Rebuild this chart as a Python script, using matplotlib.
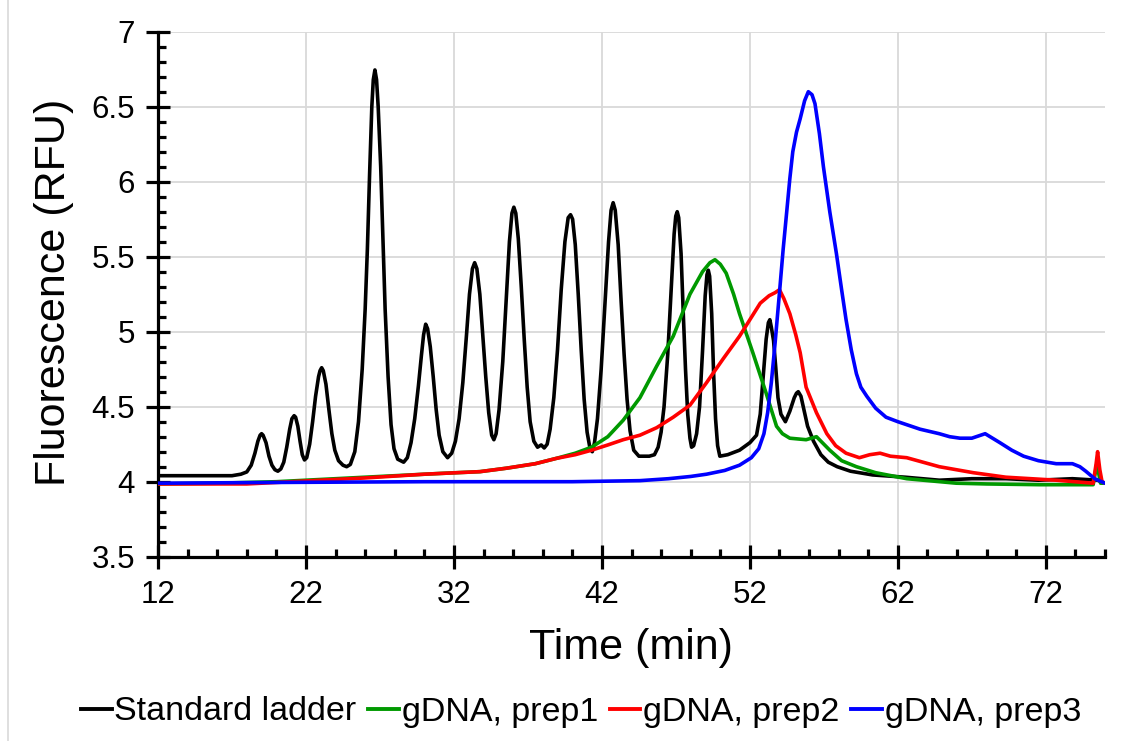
import matplotlib
matplotlib.use("Agg")
import matplotlib.pyplot as plt
from matplotlib.lines import Line2D

plt.rcParams['font.family'] = ['Liberation Sans', 'DejaVu Sans']

# ---------------- data: (time, RFU) ----------------
ladder_pts = [
    (12, 4.04), (17.0, 4.04), (17.6, 4.05), (18.0, 4.065), (18.3, 4.11), (18.55, 4.19),
    (18.75, 4.27), (18.9, 4.31), (19.0, 4.32), (19.1, 4.31), (19.3, 4.26), (19.5, 4.17),
    (19.7, 4.11), (19.9, 4.08), (20.1, 4.07), (20.3, 4.085),
    (20.5, 4.13), (20.7, 4.23), (20.9, 4.35), (21.05, 4.42), (21.2, 4.44), (21.3, 4.43),
    (21.45, 4.37), (21.6, 4.27), (21.75, 4.18), (21.9, 4.145), (22.05, 4.16),
    (22.25, 4.25), (22.45, 4.40), (22.65, 4.57), (22.85, 4.70), (22.95, 4.74), (23.06, 4.76),
    (23.17, 4.74), (23.35, 4.65), (23.55, 4.48), (23.75, 4.32), (23.95, 4.21), (24.2, 4.14),
    (24.5, 4.11), (24.75, 4.10), (25.0, 4.115),
    (25.3, 4.20), (25.55, 4.40), (25.8, 4.75), (26.0, 5.15), (26.15, 5.55), (26.3, 6.05),
    (26.45, 6.50), (26.55, 6.68), (26.66, 6.745), (26.77, 6.68), (26.88, 6.50), (27.05, 6.10),
    (27.2, 5.62), (27.35, 5.15), (27.55, 4.70), (27.75, 4.38), (27.95, 4.22), (28.2, 4.15),
    (28.6, 4.13), (28.85, 4.16),
    (29.1, 4.26), (29.35, 4.42), (29.6, 4.64), (29.8, 4.84), (29.95, 4.98), (30.09, 5.05),
    (30.22, 5.02), (30.4, 4.90), (30.6, 4.70), (30.8, 4.48), (31.0, 4.31), (31.25, 4.20),
    (31.57, 4.16), (31.85, 4.19),
    (32.1, 4.27), (32.35, 4.42), (32.6, 4.66), (32.85, 4.98), (33.05, 5.25), (33.25, 5.42),
    (33.4, 5.46), (33.55, 5.42), (33.75, 5.25), (33.95, 4.98), (34.15, 4.70), (34.35, 4.46),
    (34.55, 4.31), (34.7, 4.28), (34.85, 4.32),
    (35.05, 4.48), (35.3, 4.80), (35.55, 5.25), (35.75, 5.60), (35.92, 5.79), (36.05, 5.83),
    (36.18, 5.79), (36.35, 5.62), (36.55, 5.30), (36.75, 4.95), (36.95, 4.63), (37.15, 4.40),
    (37.4, 4.27), (37.65, 4.23), (37.9, 4.245), (38.1, 4.225), (38.3, 4.25),
    (38.5, 4.35), (38.75, 4.56), (39.0, 4.88), (39.25, 5.28), (39.5, 5.60), (39.72, 5.76),
    (39.88, 5.78), (40.02, 5.75), (40.2, 5.58), (40.4, 5.25), (40.6, 4.88), (40.8, 4.55),
    (41.0, 4.33), (41.2, 4.22), (41.35, 4.20), (41.5, 4.26),
    (41.7, 4.42), (41.95, 4.75), (42.2, 5.18), (42.45, 5.60), (42.62, 5.81), (42.76, 5.86),
    (42.9, 5.81), (43.1, 5.58), (43.3, 5.20), (43.5, 4.85), (43.7, 4.55), (43.9, 4.34),
    (44.15, 4.21), (44.5, 4.17), (45.2, 4.17), (45.55, 4.18), (45.8, 4.23),
    (46.0, 4.33), (46.2, 4.50), (46.45, 4.85), (46.7, 5.32), (46.88, 5.65), (46.99, 5.77),
    (47.09, 5.80), (47.19, 5.76), (47.35, 5.52), (47.5, 5.12), (47.65, 4.75), (47.8, 4.45),
    (47.95, 4.29), (48.06, 4.23), (48.2, 4.24),
    (48.4, 4.32), (48.6, 4.50), (48.8, 4.87), (48.98, 5.24), (49.1, 5.38), (49.19, 5.41),
    (49.28, 5.37), (49.42, 5.12), (49.55, 4.72), (49.68, 4.42), (49.82, 4.24), (49.97, 4.17),
    (50.5, 4.18), (51.3, 4.21), (52.0, 4.26), (52.45, 4.31),
    (52.7, 4.45), (52.9, 4.70), (53.1, 4.95), (53.25, 5.06), (53.35, 5.08), (53.45, 5.03),
    (53.6, 4.94), (53.75, 4.76), (53.9, 4.56), (54.1, 4.45), (54.4, 4.40),
    (54.7, 4.47), (55.0, 4.56), (55.15, 4.59), (55.27, 4.60), (55.45, 4.57), (55.65, 4.48),
    (55.9, 4.37), (56.3, 4.27), (56.8, 4.18), (57.3, 4.13), (57.9, 4.10), (58.8, 4.07),
    (60.3, 4.045), (62.5, 4.03), (64.8, 4.01), (67.0, 4.02), (69.3, 4.02), (71.5, 4.01),
    (73.8, 4.02), (75.5, 4.01), (76.0, 3.99),
]

prep1_pts = [
    (12, 3.985), (16, 3.99), (20, 4.00), (24, 4.02), (28, 4.04), (31.05, 4.055), (33.76, 4.067),
    (35.55, 4.09), (37.5, 4.12), (38.9, 4.155), (40.2, 4.19), (41.3, 4.23), (42.4, 4.30),
    (43.44, 4.41), (44.57, 4.56), (45.7, 4.77), (46.82, 4.97), (47.95, 5.25), (48.8, 5.40),
    (49.3, 5.46), (49.64, 5.48), (50.0, 5.45), (50.4, 5.39), (50.9, 5.25), (51.3, 5.12),
    (52.2, 4.86), (53.1, 4.59), (53.8, 4.37), (54.2, 4.32), (54.7, 4.29), (55.8, 4.28),
    (56.5, 4.30), (57.4, 4.21), (58.2, 4.14), (59.2, 4.10), (60.5, 4.06), (62.6, 4.02),
    (65.95, 3.99), (68.0, 3.985), (71.6, 3.98), (75.2, 3.98), (75.45, 4.12), (75.7, 3.99),
    (76.0, 3.99),
]

prep2_pts = [
    (12, 3.985), (18, 3.985), (22, 4.005), (26, 4.025), (30, 4.05), (33.76, 4.067), (35.55, 4.09),
    (37.5, 4.12), (38.9, 4.155), (40.2, 4.18), (41.3, 4.21), (42.4, 4.245), (43.44, 4.28),
    (44.57, 4.31), (45.7, 4.36), (46.82, 4.43), (47.95, 4.51), (49.07, 4.66), (50.2, 4.82),
    (51.3, 4.97), (52.0, 5.08), (52.7, 5.19), (53.3, 5.24), (53.7, 5.26), (54.0, 5.28),
    (54.3, 5.22), (54.7, 5.12), (55.1, 4.98), (55.4, 4.86), (55.8, 4.63), (56.5, 4.46),
    (57.2, 4.32), (57.8, 4.24), (58.5, 4.19), (59.4, 4.16), (60.1, 4.18), (60.8, 4.19),
    (61.5, 4.17), (62.6, 4.16), (63.7, 4.13), (64.8, 4.10), (67.1, 4.06), (69.3, 4.03),
    (72.7, 4.01), (75.2, 3.99), (75.4, 4.12), (75.5, 4.20), (75.65, 4.08), (75.8, 4.00),
    (76.0, 3.99),
]

prep3_pts = [
    (12, 3.99), (20, 3.995), (30, 4.0), (40, 4.0), (44.57, 4.007), (46.5, 4.02), (48.0, 4.035),
    (49.07, 4.05), (50.3, 4.075), (51.3, 4.11), (52.1, 4.16), (52.6, 4.22), (52.95, 4.32),
    (53.2, 4.46), (53.45, 4.66), (53.7, 4.92), (54.0, 5.26), (54.25, 5.55), (54.5, 5.81),
    (54.7, 6.02), (54.9, 6.20), (55.15, 6.33), (55.4, 6.42), (55.7, 6.54), (55.95, 6.60),
    (56.2, 6.58), (56.4, 6.52), (56.7, 6.32), (56.97, 6.10), (57.4, 5.80), (57.85, 5.52),
    (58.2, 5.28), (58.5, 5.08), (58.85, 4.88), (59.2, 4.72), (59.5, 4.63), (59.9, 4.57),
    (60.5, 4.49), (61.2, 4.43), (62.0, 4.40), (62.6, 4.38), (63.5, 4.35), (64.8, 4.32),
    (65.5, 4.30), (66.2, 4.29), (67.0, 4.29), (67.9, 4.32), (68.4, 4.29), (68.9, 4.26),
    (69.7, 4.21), (70.5, 4.17), (71.5, 4.14), (72.7, 4.12), (73.8, 4.12), (74.3, 4.10),
    (74.7, 4.07), (75.3, 4.02), (76.0, 3.99),
]

series_labels = ["Standard ladder", "gDNA, prep1", "gDNA, prep2", "gDNA, prep3"]
series_colors = ["#000000", "#009900", "#ff0000", "#0000ff"]

x_major = [12, 22, 32, 42, 52, 62, 72]
y_major = [3.5, 4, 4.5, 5, 5.5, 6, 6.5, 7]
y_ticklabels = ["3.5", "4", "4.5", "5", "5.5", "6", "6.5", "7"]

# ---------------- figure ----------------
W, H = 1130, 741
fig = plt.figure(figsize=(W / 100, H / 100), dpi=100)
ax = fig.add_axes([158 / W, 1 - 556.7 / H, (1105 - 158) / W, (556.7 - 31.7) / H])

all_pts = [ladder_pts, prep1_pts, prep2_pts, prep3_pts]
for pts, lab, col in zip(all_pts, series_labels, series_colors):
    xs = [p[0] for p in pts]
    ys = [p[1] for p in pts]
    ax.plot(xs, ys, color=col, lw=2.6, label=lab, zorder=3,
            solid_joinstyle='round', solid_capstyle='round')

ax.set_xlim(12, 76)
ax.set_ylim(3.5, 7)
ax.set_xticks(x_major)
ax.set_xticks([v for v in range(12, 77, 2)], minor=True)
ax.set_yticks(y_major)
ax.set_yticklabels(y_ticklabels)
ax.set_yticks([3.5 + 0.1 * i for i in range(36)], minor=True)

ax.grid(True, which='major', color='#d9d9d9', lw=1.3, zorder=0)
ax.set_axisbelow(True)
for s in ['top', 'right']:
    ax.spines[s].set_visible(False)
for s in ['left', 'bottom']:
    ax.spines[s].set_linewidth(2.3)

ax.tick_params(axis='both', which='major', direction='inout', length=17, width=2.3,
               labelsize=22.5, pad=8)
ax.tick_params(axis='both', which='minor', direction='in', length=6, width=2.3)

fig.text(631 / W, 1 - 648 / H, "Time (min)", fontsize=31, ha='center', va='center')
fig.text(54 / W, 1 - 292 / H, "Fluorescence (RFU)", fontsize=31, ha='center', va='center',
         rotation=90)

handles = [Line2D([0], [0], color=c, lw=2.8) for c in series_colors]
fig.legend(handles, series_labels, loc='center', bbox_to_anchor=(581 / W, 1 - 712 / H),
           ncol=4, frameon=False, fontsize=24.5, handlelength=0.9, handletextpad=0.08,
           columnspacing=0.35)

fig.add_artist(Line2D([8 / W, 8 / W], [0, 1], transform=fig.transFigure,
                      color='#d9d9d9', lw=1.2))

fig.savefig("out.png", dpi=100)
